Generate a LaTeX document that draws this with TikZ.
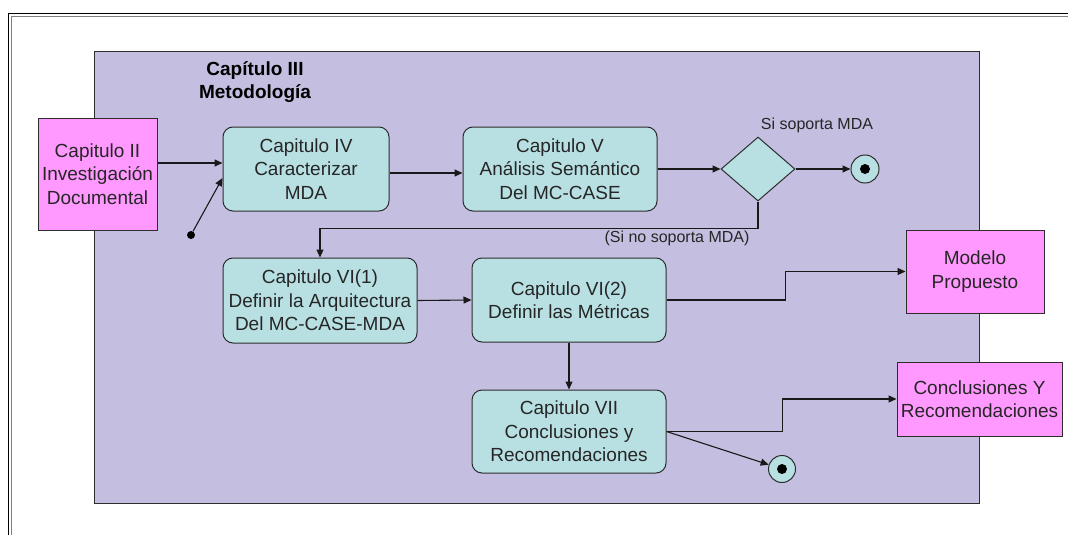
\documentclass[tikz,border=0pt]{standalone}
\usepackage{fontspec}
\setmainfont{Liberation Sans}
\usetikzlibrary{arrows.meta,shapes.geometric,calc}

\definecolor{regionfill}{RGB}{196,190,224}
\definecolor{actfill}{RGB}{184,224,227}
\definecolor{extfill}{RGB}{255,153,255}
\definecolor{edgegray}{RGB}{45,45,45}

\tikzset{
  txt/.style={font=\fontsize{19pt}{23.5pt}\selectfont, align=center, text=black!85},
  small/.style={font=\fontsize{16pt}{19pt}\selectfont, text=black!85, inner sep=0pt},
  region/.style={draw=edgegray, line width=1pt, fill=regionfill, inner sep=0pt},
  activity/.style={txt, draw=edgegray, line width=1pt, fill=actfill, rounded corners=10pt, inner sep=0pt},
  extbox/.style={txt, draw=edgegray, line width=1pt, fill=extfill, inner sep=0pt},
  decision/.style={diamond, draw=edgegray, line width=1pt, fill=actfill, inner sep=0pt},
  endstate/.style={circle, draw=edgegray, line width=1pt, fill=actfill, inner sep=0pt, minimum size=27pt},
  startstate/.style={circle, fill=black, inner sep=0pt, minimum size=8pt},
  arr/.style={draw=black!90, line width=1.1pt, -{Triangle[length=8pt,width=7pt]}},
}

\begin{document}
\begin{tikzpicture}[x=1pt,y=-1pt]
  \useasboundingbox (0,0) rectangle (1068,535);
  \fill[white] (0,0) rectangle (1068,535);

  % double page frame
  \draw[line width=1.8pt, black] (8.5,535) -- (8.5,13.5) -- (1068,13.5);
  \draw[line width=1pt, gray] (11.8,535) -- (11.8,16.8) -- (1068,16.8);

  % chapter III region
  \node (metodo) [region, minimum width=885pt, minimum height=451pt] at (536.5,277.5) {};
  \node (titulo) [txt, font=\fontsize{19pt}{23pt}\selectfont\bfseries, text=black] at (255,82.5) {Capítulo III\\Metodología};

  % activities
  \node (c2) [extbox, minimum width=119pt, minimum height=112pt] at (97.5,174) {Capitulo II\\Investigación\\Documental};
  \node (c4) [activity, minimum width=166pt, minimum height=84pt] at (306,169) {Capitulo IV\\Caracterizar\\MDA};
  \node (c5) [activity, minimum width=194pt, minimum height=84pt] at (560,169) {Capitulo V\\Análisis Semántico\\Del MC-CASE};
  \node (dec) [decision, minimum width=74pt, minimum height=64pt] at (758,169) {};
  \node (end1) [endstate, minimum size=28pt] at (865,169) {};
  \node (c61) [activity, minimum width=194pt, minimum height=85pt] at (320,300.5) {Capitulo VI(1)\\Definir la Arquitectura\\Del MC-CASE-MDA};
  \node (c62) [activity, minimum width=194pt, minimum height=84pt] at (569,300) {Capitulo VI(2)\\Definir las Métricas};
  \node (c7) [activity, minimum width=194pt, minimum height=83pt] at (569,431.5) {Capitulo VII\\Conclusiones y\\Recomendaciones};
  \node (end2) [endstate] at (782,469) {};
  \node (modelo) [extbox, minimum width=138pt, minimum height=83pt] at (975,271.5) {Modelo\\Propuesto};
  \node (concl) [extbox, minimum width=165pt, minimum height=74pt] at (979.5,399) {Conclusiones Y\\Recomendaciones};
  \node (ini) [startstate] at (191,235) {};

  % inner dots of the final states
  \fill[black] (end1.center) circle (5pt);
  \fill[black] (end2.center) circle (5pt);

  % guard labels
  \node (si) [small] at (817,125) {Si soporta MDA};
  \node (no) [small] at (677,238) {(Si no soporta MDA)};

  % connectors
  \draw[arr] ([yshift=11pt]c2.east) -- ([yshift=11pt]c2.east -| c4.west);
  \draw[arr] (ini) -- ([yshift=-9pt]c4.west);
  \draw[arr] ([yshift=-4pt]c4.east) -- ([yshift=-4pt]c5.west);
  \draw[arr] (c5.east) -- (dec.west);
  \draw[arr] (dec.east) -- (end1.west);
  \draw[arr] (dec.south) -- ++(0,27) -| (c61.north);
  \draw[arr] (c61.east) -- (c62.west);
  \draw[arr] (c62.east) -- ++(119,0) |- (modelo.west);
  \draw[arr] (c62.south) -- (c7.north);
  \draw[arr] (c7.east) -- ++(116,0) |- (concl.west);
  \draw[arr] (c7.east) -- (end2);
\end{tikzpicture}
\end{document}
